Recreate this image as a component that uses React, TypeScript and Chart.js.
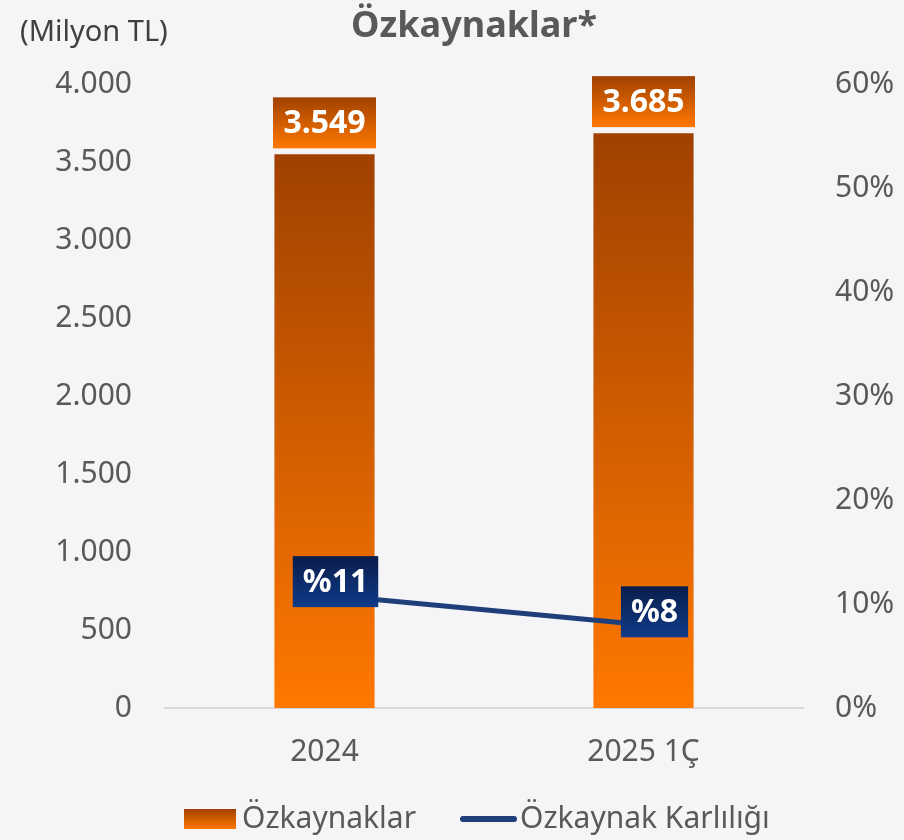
import { useEffect, useRef } from 'react';
import { Chart, registerables } from 'chart.js';

Chart.register(...registerables);

const categories = ['2024', '2025 1Ç'];
const equityValues = [3549, 3685];
const equityLabels = ['3.549', '3.685'];
const roeValues = [10.9, 8.0];
const roeLabels = ['%11', '%8'];
const leftMax = 4000;
const leftStep = 500;
const rightMax = 60;
const rightStep = 10;

const FONT = '"Noto Sans", "DejaVu Sans", sans-serif';
const BG = '#f5f5f7';
const TEXT = '#595959';
const NAVY = '#1f3f7a';
const ORANGE_TOP = '#a04100';
const ORANGE_BOTTOM = '#ff7800';

const fmtThousands = (v: number) => String(v).replace(/\B(?=(\d{3})+(?!\d))/g, '.');

const orangeGrad = (ctx: CanvasRenderingContext2D, top: number, bottom: number) => {
  const g = ctx.createLinearGradient(0, top, 0, bottom);
  g.addColorStop(0, ORANGE_TOP);
  g.addColorStop(1, ORANGE_BOTTOM);
  return g;
};

const decorPlugin = {
  id: 'decor',
  beforeDraw(chart: any) {
    const ctx = chart.ctx as CanvasRenderingContext2D;
    ctx.save();
    ctx.fillStyle = BG;
    ctx.fillRect(0, 0, chart.width, chart.height);
    ctx.restore();
  },
  afterDatasetsDraw(chart: any) {
    const ctx = chart.ctx as CanvasRenderingContext2D;
    ctx.save();
    // bar value labels
    const barMeta = chart.getDatasetMeta(1);
    barMeta.data.forEach((el: any, i: number) => {
      const w = 103;
      const h = 51;
      const bottom = el.y - 6;
      const top = bottom - h;
      ctx.fillStyle = orangeGrad(ctx, top, bottom);
      ctx.fillRect(el.x - w / 2, top, w, h);
      ctx.fillStyle = '#ffffff';
      ctx.font = `bold 32px ${FONT}`;
      ctx.textAlign = 'center';
      ctx.textBaseline = 'middle';
      ctx.fillText(equityLabels[i], el.x, top + h / 2 + 1);
    });
    // line labels
    const lineMeta = chart.getDatasetMeta(0);
    lineMeta.data.forEach((el: any, i: number) => {
      ctx.font = `bold 32px ${FONT}`;
      const tw = ctx.measureText(roeLabels[i]).width;
      const w = tw + 20;
      const h = 51;
      const cx = el.x + 11;
      const cy = el.y - 13;
      const top = cy - h / 2;
      const g = ctx.createLinearGradient(0, top, 0, top + h);
      g.addColorStop(0, '#0a1d4b');
      g.addColorStop(1, '#0f3b88');
      ctx.fillStyle = g;
      ctx.fillRect(cx - w / 2, top, w, h);
      ctx.fillStyle = '#ffffff';
      ctx.textAlign = 'center';
      ctx.textBaseline = 'middle';
      ctx.fillText(roeLabels[i], cx, cy + 1);
    });
    ctx.restore();
  },
  afterDraw(chart: any) {
    const ctx = chart.ctx as CanvasRenderingContext2D;
    ctx.save();
    // title
    ctx.fillStyle = TEXT;
    ctx.font = `bold 36px ${FONT}`;
    ctx.textAlign = 'center';
    ctx.textBaseline = 'alphabetic';
    ctx.fillText('Özkaynaklar*', 474, 37);
    // unit
    ctx.fillStyle = '#404040';
    ctx.font = `29px ${FONT}`;
    ctx.textAlign = 'left';
    ctx.fillText('(Milyon TL)', 20, 41);
    // legend
    const ly = 819;
    ctx.fillStyle = orangeGrad(ctx, 809, 829);
    ctx.fillRect(184, 809, 52, 20);
    ctx.fillStyle = TEXT;
    ctx.font = `30px ${FONT}`;
    ctx.textBaseline = 'middle';
    ctx.fillText('Özkaynaklar', 242, ly);
    ctx.strokeStyle = NAVY;
    ctx.lineWidth = 6;
    ctx.lineCap = 'round';
    ctx.beginPath();
    ctx.moveTo(463, ly);
    ctx.lineTo(514, ly);
    ctx.stroke();
    ctx.fillText('Özkaynak Karlılığı', 520, ly);
    ctx.restore();
  },
};

export default function App() {
  const ref = useRef<HTMLCanvasElement | null>(null);

  useEffect(() => {
    document.body.style.margin = '0';
    document.body.style.background = BG;
    if (!ref.current) return;
    const chart = new Chart(ref.current, {
      type: 'bar',
      data: {
        labels: categories,
        datasets: [
          {
            type: 'line',
            label: 'Özkaynak Karlılığı',
            data: roeValues,
            yAxisID: 'y1',
            borderColor: NAVY,
            backgroundColor: NAVY,
            borderWidth: 5,
            pointRadius: 0,
            tension: 0,
            order: 0,
          } as any,
          {
            type: 'bar',
            label: 'Özkaynaklar',
            data: equityValues,
            yAxisID: 'y',
            barPercentage: 0.314,
            categoryPercentage: 1,
            backgroundColor: (c: any) => {
              const chart = c.chart;
              if (!chart.chartArea || typeof c.raw !== 'number') return ORANGE_BOTTOM;
              const ys = chart.scales.y;
              return orangeGrad(chart.ctx, ys.getPixelForValue(c.raw), ys.getPixelForValue(0));
            },
            order: 1,
          } as any,
        ],
      },
      options: {
        responsive: false,
        animation: false,
        layout: { padding: { top: 84, left: 0, right: 0, bottom: 0 } },
        plugins: {
          legend: { display: false },
          title: { display: false },
          tooltip: { enabled: false },
        },
        scales: {
          x: {
            grid: { display: false, drawTicks: false },
            border: { display: true, color: '#d9d9d9', width: 2 },
            ticks: { color: TEXT, font: { family: FONT, size: 30 }, padding: 26 },
            afterFit: (s: any) => { s.height = 132; },
          },
          y: {
            position: 'left',
            min: 0,
            max: leftMax,
            grid: { display: false, drawTicks: false },
            border: { display: false },
            ticks: {
              stepSize: leftStep,
              color: TEXT,
              font: { family: FONT, size: 30 },
              padding: 33,
              callback: (v: any) => fmtThousands(Number(v)),
            },
            afterFit: (s: any) => { s.width = 165; },
          },
          y1: {
            position: 'right',
            min: 0,
            max: rightMax,
            grid: { display: false, drawTicks: false },
            border: { display: false },
            ticks: {
              stepSize: rightStep,
              color: TEXT,
              font: { family: FONT, size: 30 },
              padding: 32,
              callback: (v: any) => `${v}%`,
            },
            afterFit: (s: any) => { s.width = 101; },
          },
        },
      },
      plugins: [decorPlugin],
    });
    return () => chart.destroy();
  }, []);

  return (
    <div style={{ width: 904, height: 840, background: BG }}>
      <canvas ref={ref} width={904} height={840} style={{ display: 'block', width: 904, height: 840 }} />
    </div>
  );
}
